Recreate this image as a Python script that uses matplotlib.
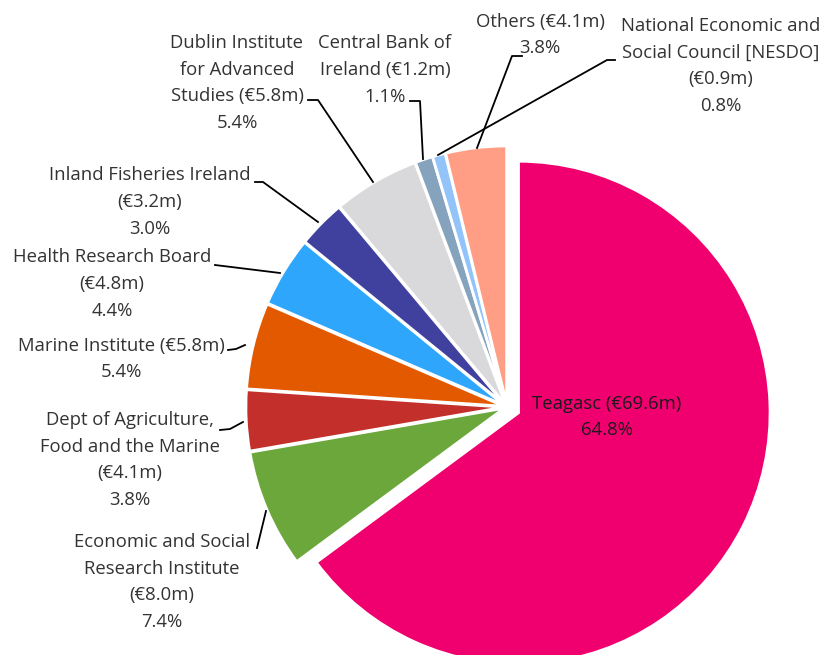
import matplotlib.pyplot as plt

# data
labels = ["Teagasc", "Economic and Social\nResearch Institute", "Dept of Agriculture,\nFood and the Marine",
          "Marine Institute", "Health Research Board", "Inland Fisheries Ireland",
          "Dublin Institute\nfor Advanced\nStudies", "Central Bank of\nIreland",
          "National Economic and\nSocial Council [NESDO]", "Others"]
amounts = [69.6, 8.0, 4.1, 5.8, 4.8, 3.2, 5.8, 1.2, 0.9, 4.1]
shares = [64.8, 7.4, 3.8, 5.4, 4.4, 3.0, 5.4, 1.1, 0.8, 3.8]
colors = ["#F0006E", "#6BA73B", "#C3302C", "#E35900", "#2EA6FC", "#40409E",
          "#D9D9DB", "#86A3BE", "#92C4FA", "#FF9E85"]

# label text: amount joined to last name line or on its own line
texts = [
    "Teagasc (€69.6m)\n64.8%",
    "Economic and Social\nResearch Institute\n(€8.0m)\n7.4%",
    "Dept of Agriculture,\nFood and the Marine\n(€4.1m)\n3.8%",
    "Marine Institute (€5.8m)\n5.4%",
    "Health Research Board\n(€4.8m)\n4.4%",
    "Inland Fisheries Ireland\n(€3.2m)\n3.0%",
    "Dublin Institute\nfor Advanced\nStudies (€5.8m)\n5.4%",
    "Central Bank of\nIreland (€1.2m)\n1.1%",
    "National Economic and\nSocial Council [NESDO]\n(€0.9m)\n0.8%",
    "Others (€4.1m)\n3.8%",
]

W, H = 824, 655
plt.rcParams["font.family"] = ["Open Sans", "DejaVu Sans"]
fig = plt.figure(figsize=(8.24, 6.55), dpi=100)
ax = fig.add_axes([0, 0, 1, 1])

cx, cy, r = 507, 407, 258
# explode is an absolute offset in data units (pixels here)
explode = [0.05 * r] + [0.012 * r] * 9

# y axis is flipped, so counterclock=True with start -90 draws clockwise from the top on screen
wedges, _ = ax.pie(shares, colors=colors, explode=explode, startangle=-90, counterclock=True,
                   center=(cx, cy), radius=r, frame=True,
                   wedgeprops=dict(edgecolor="white", linewidth=2))
# the pulled-out Teagasc slice is drawn a little smaller
wedges[0].set_radius(r * 0.975)

ax.set_xlim(0, W)
ax.set_ylim(H, 0)
ax.set_aspect("equal")
ax.axis("off")

txt = dict(fontsize=13.3, ha="center", va="center", linespacing=1.62)

# label centres and leader lines (text point -> elbow -> slice)
pos = [(607, 417), (162, 582), (130, 460), (121, 359), (112, 284),
       (150, 202), (237, 83), (385, 70), (721, 66), (540, 35)]
lines = [None,
         [(257, 548), (266, 511)],
         [(220, 430), (230, 429), (243, 422)],
         [(228, 350), (236, 349), (245, 345)],
         [(215, 265), (280, 273)],
         [(255, 182), (263, 182), (318, 222)],
         [(308, 100), (318, 100), (373, 182)],
         [(410, 101), (420, 101), (423, 159)],
         [(615, 60), (607, 60), (438, 155)],
         [(522, 56), (512, 56), (477, 148)]]

for i, (t, p, ln) in enumerate(zip(texts, pos, lines)):
    ax.text(p[0], p[1], t, color="#1a1a1a" if i == 0 else "#333333", **txt)
    if ln:
        ax.plot([q[0] for q in ln], [q[1] for q in ln], color="black", linewidth=1.3)

fig.savefig("out.png", dpi=100)
